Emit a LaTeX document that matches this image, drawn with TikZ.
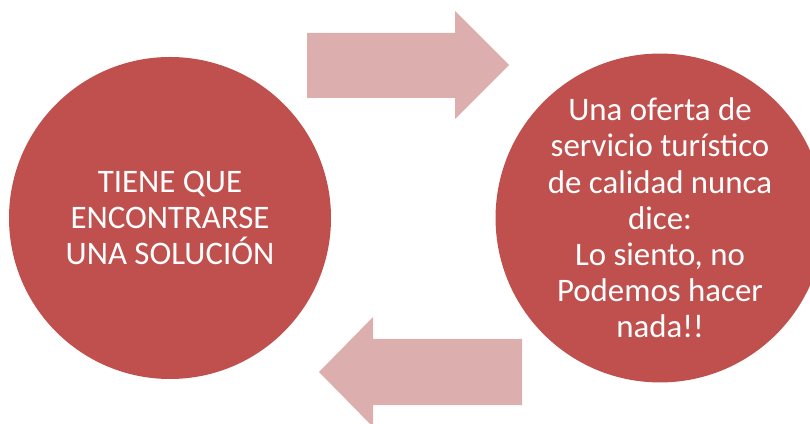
\documentclass[tikz,border=0pt]{standalone}
\usepackage{fontspec}
\setmainfont{Carlito}
\definecolor{circlered}{HTML}{C0504D}
\definecolor{arrowpink}{HTML}{DCAFAE}
\tikzset{
  bubble/.style={circle, fill=circlered, minimum size=6.44cm, inner sep=0pt,
    text=white, align=center, font=\fontsize{18.7}{20.6}\selectfont},
  blockarrow/.style={fill=arrowpink},
}
\begin{document}
\begin{tikzpicture}
  \useasboundingbox (0,0) rectangle (16.2,8.46);

  % Left circle
  \node[bubble] (solucion) at (3.4,4.1)
    {TIENE QUE\\ENCONTRARSE\\UNA SOLUCIÓN};

  % Right circle
  \node[bubble] (oferta) at (13.2,4.1)
    {Una oferta de\\servicio turístico\\de calidad nunca\\dice:\\Lo siento, no\\Podemos hacer\\nada!!};

  % Top arrow (to the right)
  \fill[blockarrow] (6.14,6.5) -- (9.1,6.5) -- (9.1,6.08) -- (10.18,7.16)
    -- (9.1,8.24) -- (9.1,7.8) -- (6.14,7.8) -- cycle;

  % Bottom arrow (to the left)
  \fill[blockarrow] (10.44,0.36) -- (7.46,0.36) -- (7.46,-0.08) -- (6.38,1.02)
    -- (7.46,2.12) -- (7.46,1.68) -- (10.44,1.68) -- cycle;
\end{tikzpicture}
\end{document}
